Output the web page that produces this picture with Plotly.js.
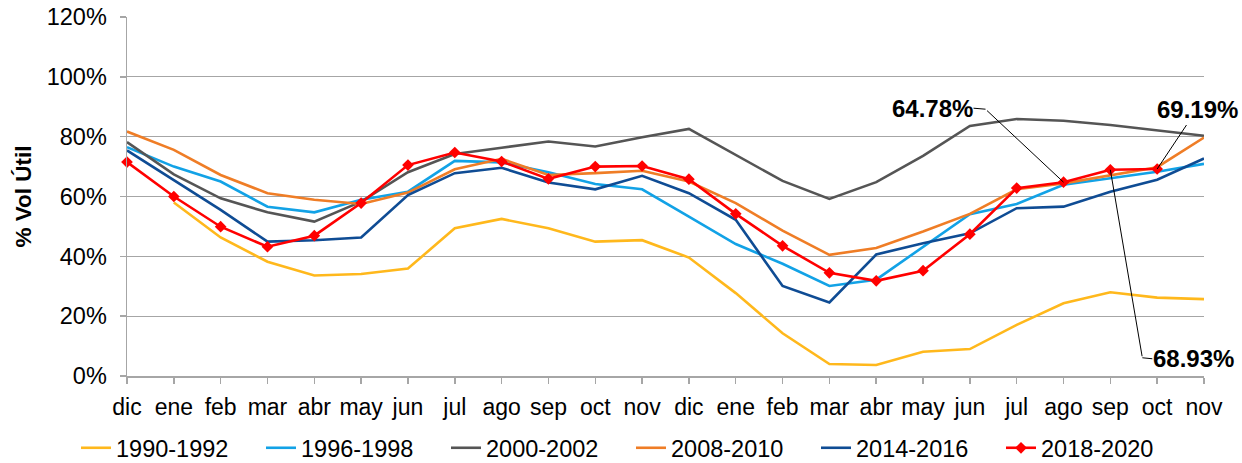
<!DOCTYPE html>
<html>
<head>
<meta charset="utf-8">
<script src="https://cdn.plot.ly/plotly-3.0.1.min.js"></script>
<style>html,body{margin:0;padding:0;background:#fff;}#chart{width:1242px;height:463px;}</style>
</head>
<body>
<div id="chart"></div>
<script>
// Month labels (two hydrological years, dic..nov twice)
const months = ["dic","ene","feb","mar","abr","may","jun","jul","ago","sep","oct","nov",
                "dic","ene","feb","mar","abr","may","jun","jul","ago","sep","oct","nov"];

// % Vol Útil per series
const s1990_1992 = [null, 58.0, 46.3, 38.2, 33.6, 34.1, 35.9, 49.4, 52.5, 49.4, 44.9, 45.4,
                    39.6, 27.7, 14.3, 4.0, 3.7, 8.1, 9.0, 17.1, 24.3, 28.0, 26.2, 25.7];
const s1996_1998 = [76.5, 70.0, 65.0, 56.6, 54.7, 58.9, 61.6, 71.9, 71.4, 68.1, 64.2, 62.4,
                    53.3, 44.1, 37.5, 30.1, 32.2, 43.2, 54.1, 57.5, 63.9, 66.1, 68.3, 70.9];
const s2000_2002 = [78.2, 67.4, 59.4, 54.7, 51.6, 58.3, 68.1, 74.2, 76.3, 78.4, 76.7, 79.8,
                    82.6, 73.9, 65.2, 59.2, 64.8, 73.6, 83.6, 85.9, 85.3, 83.9, 82.0, 80.3];
const s2008_2010 = [81.7, 75.6, 67.2, 61.1, 58.9, 57.5, 61.3, 69.1, 72.6, 67.2, 67.8, 68.6,
                    65.0, 57.8, 48.6, 40.5, 42.8, 48.3, 54.2, 62.4, 64.4, 67.2, 69.8, 79.7];
const s2014_2016 = [75.4, 65.3, 55.5, 44.9, 45.4, 46.3, 60.5, 67.8, 69.6, 64.7, 62.4, 66.9,
                    61.1, 52.2, 30.1, 24.6, 40.6, 44.4, 47.7, 56.1, 56.6, 61.6, 65.6, 72.7];
const s2018_2020 = [71.5, 60.0, 49.9, 43.2, 46.9, 57.8, 70.5, 74.7, 71.7, 65.9, 70.0, 70.2,
                    65.8, 54.2, 43.5, 34.5, 31.8, 35.2, 47.4, 62.8, 64.78, 68.93, 69.19, null];

const seriesNames = ["1990-1992","1996-1998","2000-2002","2008-2010","2014-2016","2018-2020"];
const seriesData = [s1990_1992, s1996_1998, s2000_2002, s2008_2010, s2014_2016, s2018_2020];
const seriesColors = ["#FFB81C","#12A2E6","#555555","#EF7D26","#0F4C94","#FF0000"];

const xIdx = months.map((m, i) => i);
const FONT = "Liberation Sans, Arial, sans-serif";

const traces = seriesData.map((ys, k) => {
  const t = {
    x: xIdx, y: ys, name: seriesNames[k], type: "scatter",
    mode: "lines",
    line: {color: seriesColors[k], width: 2.6},
    cliponaxis: false,
    connectgaps: false
  };
  if (k === 5) {
    t.mode = "lines+markers";
    t.marker = {symbol: "diamond", size: 9, color: seriesColors[k]};
  }
  return t;
});

const fmt = v => v.toFixed(2) + "%";
const annFont = {family: FONT, size: 24, color: "#000000"};
const iA = 20, iB = 21, iC = 22;
const annotations = [
  {x: iA, y: s2018_2020[iA], xref: "x", yref: "y", text: "", showarrow: true,
   arrowhead: 0, arrowwidth: 1, arrowcolor: "#000", ax: -78, ay: -73, standoff: 0},
  {x: iA, y: s2018_2020[iA], xref: "x", yref: "y", xshift: -78, yshift: 73,
   text: "<b>" + fmt(s2018_2020[iA]) + "</b>", font: annFont, showarrow: true,
   arrowhead: 0, arrowwidth: 1, arrowcolor: "#000", ax: -12, ay: -1, xanchor: "right", yanchor: "middle",
   standoff: 0, borderpad: 0},
  {x: iB, y: s2018_2020[iB], xref: "x", yref: "y", text: "", showarrow: true,
   arrowhead: 0, arrowwidth: 1, arrowcolor: "#000", ax: 32, ay: 188, standoff: 0},
  {x: iB, y: s2018_2020[iB], xref: "x", yref: "y", xshift: 32, yshift: -188,
   text: "<b>" + fmt(s2018_2020[iB]) + "</b>", font: annFont, showarrow: true,
   arrowhead: 0, arrowwidth: 1, arrowcolor: "#000", ax: 10, ay: 1, xanchor: "left", yanchor: "middle",
   standoff: 0, borderpad: 0},
  {x: iC, y: s2018_2020[iC], xref: "x", yref: "y",
   text: "<b>" + fmt(s2018_2020[iC]) + "</b>", font: annFont, showarrow: true,
   arrowhead: 0, arrowwidth: 1, arrowcolor: "#000", ax: 40, ay: -60, standoff: 0, borderpad: 2}
];

const TICK = 23;
const layout = {
  width: 1242, height: 463,
  margin: {l: 127, r: 38, t: 17, b: 87, autoexpand: false},
  paper_bgcolor: "#ffffff", plot_bgcolor: "#ffffff",
  font: {family: FONT, size: TICK, color: "#000000"},
  showlegend: true,
  legend: {
    orientation: "h", xref: "paper", yref: "paper",
    x: (76 - 127) / 1077, y: (376 - 448) / 359, xanchor: "left", yanchor: "middle",
    entrywidth: 140, entrywidthmode: "pixels",
    font: {family: FONT, size: 23.5, color: "#000"}, bgcolor: "rgba(0,0,0,0)",
    tracegroupgap: 0, itemwidth: 30
  },
  xaxis: {
    range: [0, 23], tickmode: "array", tickvals: xIdx, ticktext: months,
    showgrid: false, zeroline: false, showline: true, linecolor: "#A6A6A6", linewidth: 1.5,
    ticks: "outside", ticklen: 6, tickcolor: "#A6A6A6", tickwidth: 1.5,
    tickfont: {family: FONT, size: TICK, color: "#000"}, fixedrange: true,
    ticklabelstandoff: 4
  },
  yaxis: {
    range: [0, 120], dtick: 20, ticksuffix: "%", tickmode: "linear", tick0: 0,
    showgrid: true, gridcolor: "#A6A6A6", gridwidth: 1.2, zeroline: false,
    showline: true, linecolor: "#A6A6A6", linewidth: 1.5,
    ticks: "outside", ticklen: 6, tickcolor: "#A6A6A6", tickwidth: 1.5,
    tickfont: {family: FONT, size: 23.5, color: "#000"},
    ticklabelstandoff: 8,
    title: {text: "<b>% Vol Útil</b>", font: {family: FONT, size: 22.5, color: "#000"}, standoff: 9},
    fixedrange: true
  },
  annotations: annotations
};

Plotly.newPlot("chart", traces, layout, {staticPlot: true, displayModeBar: false});
</script>
</body>
</html>
